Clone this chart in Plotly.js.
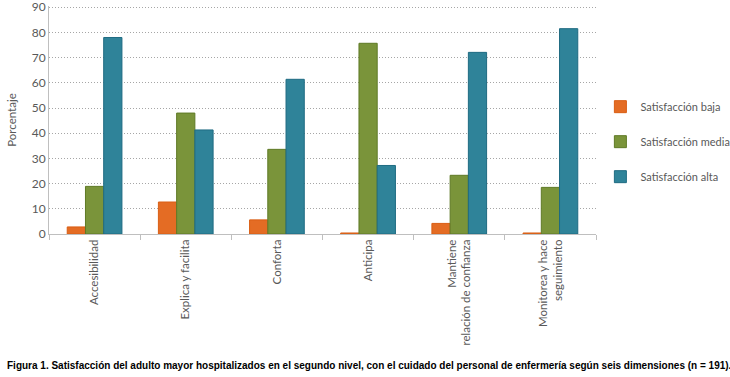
<!DOCTYPE html>
<html><head><meta charset="utf-8">
<script src="https://cdn.plot.ly/plotly-3.0.1.min.js"></script>
<style>html,body{margin:0;padding:0;background:#fff}#chart{width:730px;height:377px}</style>
</head><body><div id="chart"></div>
<script>
const categories = ["Accesibilidad", "Explica y facilita", "Conforta", "Anticipa", "Mantiene<br>relación de confianza", "Monitorea y hace<br>seguimiento"];
const seriesNames = ["Satisfacción baja", "Satisfacción media", "Satisfacción alta"];
const baja = [2.8, 12.7, 5.6, 0.4, 4.2, 0.4];
const media = [18.9, 48.0, 33.6, 75.7, 23.3, 18.5];
const alta = [78.0, 41.3, 61.4, 27.2, 72.1, 81.5];
const yTicks = [0, 10, 20, 30, 40, 50, 60, 70, 80, 90];
const caption = "Figura 1. Satisfacción del adulto mayor hospitalizados en el segundo nivel, con el cuidado del personal de enfermería según seis dimensiones (n = 191).";

const fills = ["#E46C24", "#7A943A", "#2F8399"];
const borders = ["#D95E14", "#5F7A26", "#1F6B82"];
const values = [baja, media, alta];
const traces = values.map((v, i) => ({
  type: "bar", x: categories, y: v, name: seriesNames[i], legendgroup: "g" + i,
  marker: {color: fills[i], line: {color: borders[i], width: 1}}
}));
const layout = {
  width: 730, height: 377,
  margin: {l: 49, r: 134, t: 6, b: 143, autoexpand: false},
  paper_bgcolor: "#fff", plot_bgcolor: "#fff",
  barmode: "group", bargap: 0.4, bargroupgap: 0,
  font: {family: "Lato, Open Sans, sans-serif", color: "#595959", size: 11},
  xaxis: {
    type: "category", tickangle: -90, tickson: "boundaries", ticks: "outside", ticklen: 5,
    tickcolor: "#BFBFBF", showline: true, linecolor: "#BFBFBF", linewidth: 1,
    showgrid: false, tickfont: {size: 11.5, color: "#595959"}, automargin: false
  },
  yaxis: {
    range: [0, 90.5], tickvals: yTicks, showline: true, linecolor: "#BFBFBF",
    gridcolor: "#A6A6A6", griddash: "1px,2px", gridwidth: 1, zeroline: false,
    ticks: "", tickfont: {size: 12, color: "#595959"}, automargin: false,
    ticklabeloverflow: "allow",
    title: {text: "Porcentaje", font: {size: 11.5, color: "#595959"}, standoff: 12}
  },
  legend: {
    x: 1.008, xanchor: "left", y: 0.405, yanchor: "middle",
    font: {size: 11, color: "#595959"}, tracegroupgap: 16, itemwidth: 30
  },
  annotations: [{
    text: "<b>" + caption + "</b>", xref: "paper", yref: "paper",
    x: -0.08, xanchor: "left", y: -0.575, yanchor: "middle", showarrow: false,
    font: {family: "Liberation Sans, sans-serif", size: 10, color: "#000"}
  }]
};
Plotly.newPlot("chart", traces, layout, {displayModeBar: false, staticPlot: true});
</script></body></html>
